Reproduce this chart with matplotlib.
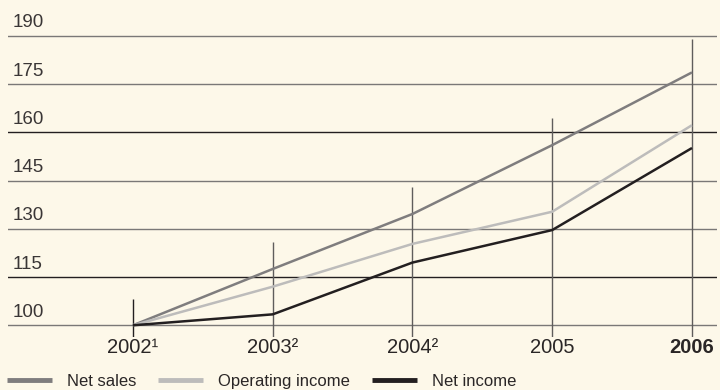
import numpy as np
import matplotlib.pyplot as plt

plt.rcParams.update({
    "font.family": ["Liberation Sans", "DejaVu Sans"],
    "figure.facecolor": "#fdf8e9",
})

# indexed development, 2002 = 100
years = [2002, 2003, 2004, 2005, 2006]
year_labels = ["2002\u00b9", "2003\u00b2", "2004\u00b2", "2005", "2006"]
net_sales = [100, 117.5, 134.6, 156.0, 178.6]
operating_income = [100, 112.0, 125.3, 135.3, 162.2]
net_income = [100, 103.4, 119.5, 129.6, 155.1]
y_ticks = [100, 115, 130, 145, 160, 175, 190]

series = [
    ("Net sales", net_sales, "#7f7d7e"),
    ("Operating income", operating_income, "#bdbcbb"),
    ("Net income", net_income, "#231f20"),
]

W, H = 720, 390
fig = plt.figure(figsize=(W / 100, H / 100), dpi=100)

# axes box in pixels: x 8..717, y 32.5..337
ax = fig.add_axes([8 / W, 1 - 337 / H, 709 / W, (337 - 32.5) / H])
ax.set_facecolor("none")
ax.set_xlim(2001.106, 2006.179)
ax.set_ylim(96.36, 191)
ax.axis("off")

# horizontal rules, every third one dark
for t in y_ticks:
    col = "#231f20" if t in (115, 160) else "#7a7877"
    ax.axhline(t, color=col, lw=1.0, zorder=1)
    ax.annotate(str(t), xy=(0, t), xycoords=("axes fraction", "data"),
                xytext=(3.5, 6), textcoords="offset points",
                ha="left", va="baseline", fontsize=13.5, color="#3a3636")

# year markers rise a little above the net sales value
tops = np.array(net_sales) + 8.3
tops[-1] = 189
for i, (x, top) in enumerate(zip(years, tops)):
    col = "#231f20" if i == 0 else "#5f5d5c"
    ax.vlines(x, 96.36, top, color=col, lw=1.0, zorder=2)
    ax.annotate(year_labels[i], xy=(x, 100), xycoords="data",
                xytext=(0, -20), textcoords="offset points",
                ha="center", va="baseline", fontsize=14.5, color="#2a2626",
                fontweight="bold" if i == len(years) - 1 else "normal")

for name, vals, col in series:
    ax.plot(years, vals, color=col, lw=1.8, label=name,
            solid_capstyle="butt", solid_joinstyle="miter", zorder=3)

handles = [plt.Line2D([], [], color=c, lw=3.5, solid_capstyle="butt")
           for _, _, c in series]
fig.legend(handles, [s[0] for s in series], loc="lower left",
           bbox_to_anchor=(7 / W, 1 / H), ncol=3, frameon=False,
           fontsize=12, handlelength=2.7, handletextpad=0.9,
           columnspacing=1.3, borderpad=0, borderaxespad=0,
           labelcolor="#2a2626")

fig.savefig("out.png", dpi=100, facecolor=fig.get_facecolor())
